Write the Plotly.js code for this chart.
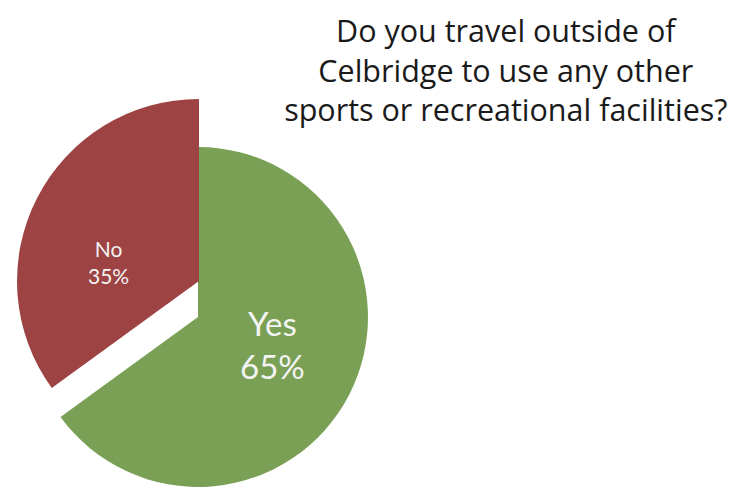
<!DOCTYPE html>
<html>
<head>
<meta charset="utf-8">
<script src="https://cdn.plot.ly/plotly-3.0.1.min.js"></script>
<style>html,body{margin:0;padding:0;background:#fff;}#chart{width:732px;height:489px;}</style>
</head>
<body>
<div id="chart"></div>
<script>
const categories = ['Yes', 'No'];
const values = [65, 35];
const sliceColors = ['#7aa056', '#9d4343'];
const chartTitle = 'Do you travel outside of<br>Celbridge to use any other<br>sports or recreational facilities?';

const FONT = 'Lato, "Open Sans", sans-serif';
const TITLE_FONT = '"Open Sans", Lato, sans-serif';
const clear = 'rgba(0,0,0,0)';
const total = values.reduce((a, b) => a + b, 0);
const pct = v => Math.round(100 * v / total) + '%';

// Base pie (Yes) and exploded / enlarged slice (No) drawn as two traces
const yesTrace = {
  type: 'pie',
  labels: categories,
  values: values,
  sort: false,
  direction: 'clockwise',
  rotation: 0,
  marker: {colors: [sliceColors[0], clear], line: {width: 0}},
  textinfo: 'none',
  hoverinfo: 'skip',
  showlegend: false,
  domain: {x: [0.0383, 0.5027], y: [0.0041, 0.6994]}
};
const noTrace = {
  type: 'pie',
  labels: categories,
  values: values,
  sort: false,
  direction: 'clockwise',
  rotation: 0,
  marker: {colors: [clear, sliceColors[1]], line: {width: 0}},
  textinfo: 'none',
  hoverinfo: 'skip',
  showlegend: false,
  domain: {x: [0.0232, 0.5205], y: [0.0532, 0.7975]}
};

const layout = {
  width: 732,
  height: 489,
  margin: {l: 0, r: 0, t: 0, b: 0},
  paper_bgcolor: '#ffffff',
  showlegend: false,
  title: {
    text: chartTitle,
    font: {family: TITLE_FONT, size: 30.5, color: '#1a1a1a'},
    x: 0.691, xanchor: 'center', xref: 'paper',
    y: 0.914, yanchor: 'top', yref: 'container'
  },
  annotations: [{
    text: categories[0] + '<br>' + pct(values[0]),
    xref: 'paper', yref: 'paper',
    x: 272 / 732, y: 1 - 344 / 489,
    xanchor: 'center', yanchor: 'middle',
    showarrow: false,
    font: {family: FONT, size: 33, color: '#f4f4f4'}
  }, {
    text: categories[1] + '<br>' + pct(values[1]),
    xref: 'paper', yref: 'paper',
    x: 108 / 732, y: 1 - 262 / 489,
    xanchor: 'center', yanchor: 'middle',
    showarrow: false,
    font: {family: FONT, size: 21, color: '#f4f4f4'}
  }]
};

Plotly.newPlot('chart', [yesTrace, noTrace], layout, {displayModeBar: false, staticPlot: true});
</script>
</body>
</html>
